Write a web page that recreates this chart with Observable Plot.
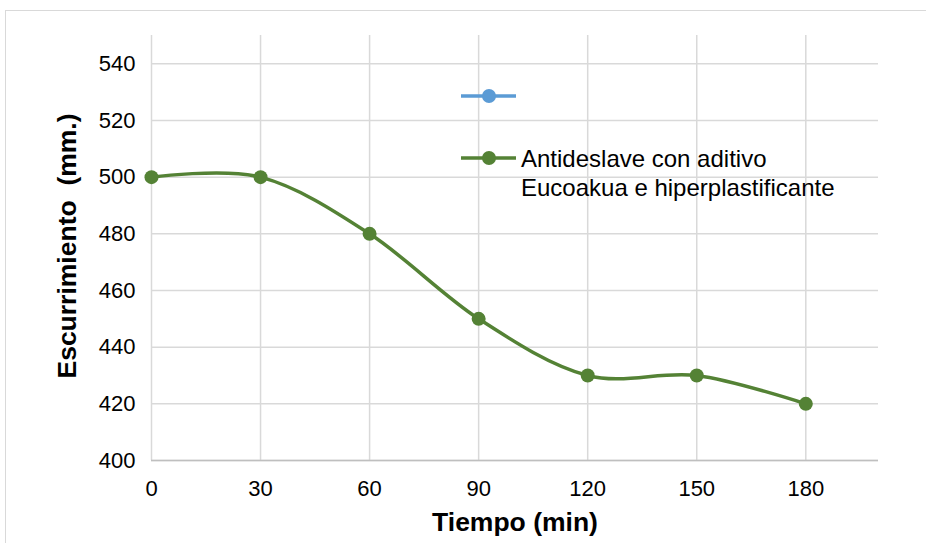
<!DOCTYPE html>
<html>
<head>
<meta charset="utf-8">
<script src="https://cdn.jsdelivr.net/npm/d3@7"></script>
<script src="https://cdn.jsdelivr.net/npm/@observablehq/plot@0.6"></script>
<style>
  html, body { margin: 0; padding: 0; background: #fff; overflow: hidden; }
  #wrap { position: relative; width: 926px; height: 543px; }
  #frame { position: absolute; left: 5px; top: 10px; width: 1000px; height: 1000px; border: 1px solid #d9d9d9; box-sizing: border-box; }
  #chart { position: absolute; left: 0; top: 0; }
</style>
</head>
<body>
<div id="wrap"><div id="frame"></div><div id="chart"></div></div>
<script>
// Data
const tiempo = [0, 30, 60, 90, 120, 150, 180];
const escurrimiento = [500, 500, 480, 450, 430, 430, 420];
const xTicks = [0, 30, 60, 90, 120, 150, 180];
const yTicks = [400, 420, 440, 460, 480, 500, 520, 540];
const xTitle = "Tiempo (min)";
const yTitle = "Escurrimiento  (mm.)";
const legendLabels = ["", "Antideslave con aditivo", "Eucoakua e hiperplastificante"];
const legendColors = ["#5b9bd5", "#548235"];

const data = tiempo.map((t, i) => ({t, v: escurrimiento[i]}));
const green = legendColors[1];
const FS = 22;
const FONT = "'Liberation Sans', Arial, sans-serif";

const plot = Plot.plot({
  width: 926,
  height: 543,
  marginLeft: 151,
  marginRight: 48,
  marginTop: 35,
  marginBottom: 83,
  style: {fontFamily: FONT, fontSize: FS + "px", color: "#000", background: "transparent"},
  x: {domain: [0, 200]},
  y: {domain: [400, 550]},
  marks: [
    Plot.gridX(xTicks, {stroke: "#d9d9d9", strokeOpacity: 1, strokeWidth: 1.5}),
    Plot.gridY(yTicks, {stroke: "#d9d9d9", strokeOpacity: 1, strokeWidth: 1.5}),
    Plot.ruleY([400], {stroke: "#bfbfbf", strokeWidth: 1.5}),
    Plot.axisX(xTicks, {tickSize: 0, tickPadding: 20, label: null, fill: "#000"}),
    Plot.axisY(yTicks, {tickSize: 0, tickPadding: 16, label: null, fill: "#000"}),
    Plot.line(data, {x: "t", y: "v", curve: "cardinal", stroke: green, strokeWidth: 3.5}),
    Plot.dot(data, {x: "t", y: "v", r: 7, fill: green, stroke: "none"})
  ]
});
document.getElementById("chart").appendChild(plot);

const svg = d3.select(plot);
// axis titles
svg.append("text")
  .attr("x", 515).attr("y", 522)
  .attr("text-anchor", "middle").attr("dominant-baseline", "central")
  .attr("font-weight", "bold").attr("font-size", 26.5)
  .attr("font-family", FONT)
  .text(xTitle);
svg.append("text")
  .attr("transform", "translate(67,246) rotate(-90)")
  .attr("text-anchor", "middle").attr("dominant-baseline", "central")
  .attr("font-weight", "bold").attr("font-size", 26.5)
  .attr("font-family", FONT)
  .style("white-space", "pre")
  .text(yTitle);

// legend
const leg = [{y: 96, c: legendColors[0]}, {y: 158, c: legendColors[1]}];
leg.forEach(d => {
  svg.append("line").attr("x1", 461).attr("x2", 516).attr("y1", d.y).attr("y2", d.y)
    .attr("stroke", d.c).attr("stroke-width", 3.5);
  svg.append("circle").attr("cx", 489).attr("cy", d.y).attr("r", 7).attr("fill", d.c);
});
const lt = svg.append("text")
  .attr("font-family", FONT).attr("font-size", 24).attr("text-anchor", "start");
lt.append("tspan").attr("x", 521).attr("y", 158).attr("dominant-baseline", "central").text(legendLabels[1]);
lt.append("tspan").attr("x", 521).attr("y", 187).attr("dominant-baseline", "central").text(legendLabels[2]);
</script>
</body>
</html>
